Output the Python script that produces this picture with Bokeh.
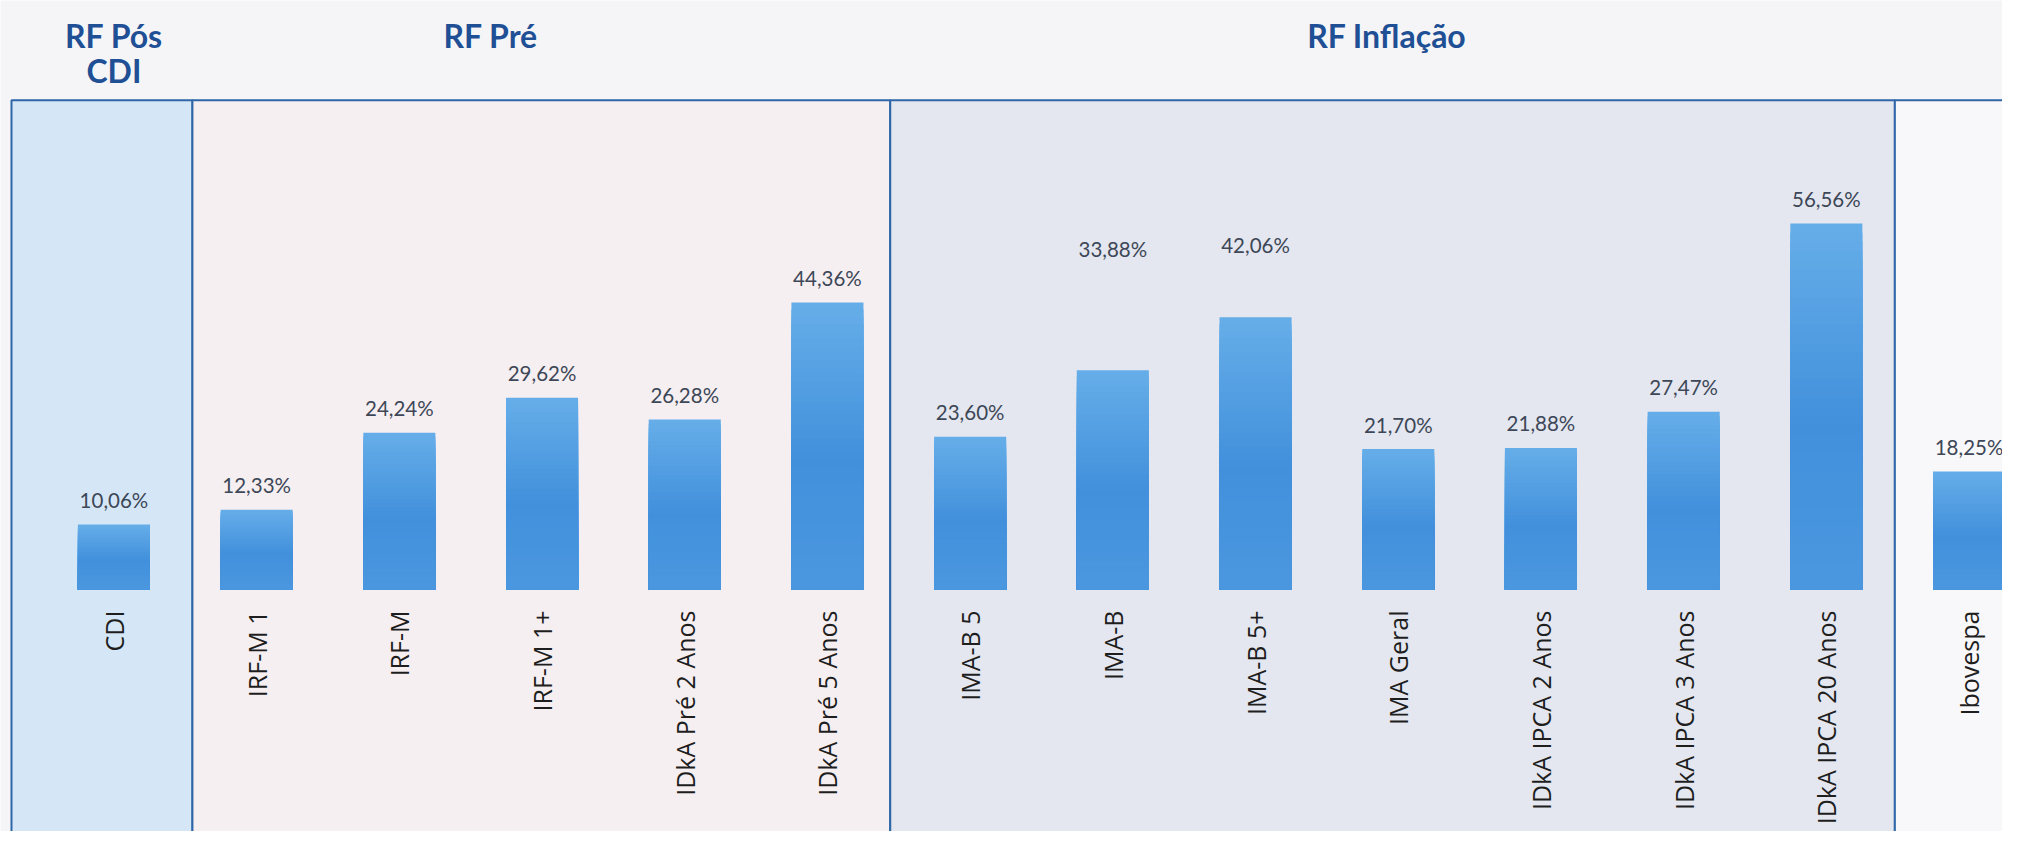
import math
from bokeh.plotting import figure
from bokeh.models import Range1d
from bokeh.core.properties import value
from bokeh.embed import file_html
from bokeh.resources import INLINE

# ---------------- data ----------------
categories = ["CDI", "IRF-M 1", "IRF-M", "IRF-M 1+", "IDkA Pré 2 Anos", "IDkA Pré 5 Anos",
              "IMA-B 5", "IMA-B", "IMA-B 5+", "IMA Geral", "IDkA IPCA 2 Anos",
              "IDkA IPCA 3 Anos", "IDkA IPCA 20 Anos", "Ibovespa"]
returns = [10.06, 12.33, 24.24, 29.62, 26.28, 44.36, 23.60, 33.88, 42.06, 21.70, 21.88,
           27.47, 56.56, 18.25]
group_title_lines = [["RF Pós", "CDI"], ["RF Pré"], ["RF Inflação"], []]
# labels that were moved by hand in the original (placed at these % heights)
moved_labels = {"IMA-B": 52.7, "IMA-B 5+": 53.3}

# ---------------- layout / style ----------------
W, H = 2002, 831
px_per_cat = 142.7
px_per_pct = 6.47
x0 = -0.795
y_base_px = 589
box_top = 75.6
group_left = [-0.718, 0.55, 5.44, 12.48]
group_right = [0.55, 5.44, 12.48, 14.5]
group_fill = ["#d5e7f7", "#f6eff2", "#e4e7f0", "#f8f8fa"]
title_x = [0.0, 2.64, 8.92]
title_line_y = [85.6, 80.2]

p = figure(width=W, height=H, output_backend="svg", toolbar_location=None,
           x_axis_location=None, y_axis_location=None, min_border=0,
           x_range=Range1d(x0, x0 + W / px_per_cat),
           y_range=Range1d(-(H - y_base_px) / px_per_pct, y_base_px / px_per_pct))
p.grid.visible = False
p.outline_line_color = None
p.background_fill_color = "#f5f5f7"
p.border_fill_color = "#f5f5f7"

# group boxes
p.quad(left=group_left, right=group_right, top=[box_top] * 4, bottom=[-60] * 4,
       fill_color=group_fill, line_color="#2e66a8", line_width=2)

# bars with a vertical gradient (lighter at the top): overlapping slices,
# tallest first, each later slice shorter, so no seams show
idx = list(range(len(categories)))
stops = [(0.0, (0x4b, 0x97, 0xdf)), (0.45, (0x42, 0x90, 0xdc)), (1.0, (0x66, 0xae, 0xe9))]


def grad(f):
    for (a, ca), (b, cb) in zip(stops[:-1], stops[1:]):
        if a <= f <= b:
            t = (f - a) / (b - a)
            c = [round(ca[i] + (cb[i] - ca[i]) * t) for i in range(3)]
            return "#%02x%02x%02x" % tuple(c)
    return "#%02x%02x%02x" % stops[-1][1]


N = 40
xs, tops, cols = [], [], []
for i, v in zip(idx, returns):
    for k in range(N - 1, -1, -1):
        xs.append(i)
        tops.append(v * (k + 1) / N)
        cols.append(grad((k + 0.5) / N))
p.vbar(x=xs, top=tops, bottom=0, width=0.505, fill_color=cols, line_color=None)

# value labels
lab_y = [moved_labels.get(c, v + 3.8) for c, v in zip(categories, returns)]
lab_t = [f"{v:.2f}".replace(".", ",") + "%" for v in returns]
p.text(x=idx, y=lab_y, text=lab_t, text_align="center", text_baseline="middle",
       text_font=value("Lato"), text_font_size=value("20.5px"), text_color="#3d4757")

# category labels (rotated)
p.text(x=idx, y=[-3.25] * len(idx), text=categories, angle=math.pi / 2,
       text_align="right", text_baseline="middle",
       text_font=value("Open Sans"), text_font_size=value("25px"), text_color="#1e1e1e")

# group titles
tx, ty, tt = [], [], []
for gx, lines in zip(title_x, group_title_lines):
    for j, line in enumerate(lines):
        tx.append(gx)
        ty.append(title_line_y[j])
        tt.append(line)
p.text(x=tx, y=ty, text=tt, text_align="center", text_baseline="middle",
       text_font=value("Lato"), text_font_style="bold", text_font_size=value("32px"),
       text_color="#1f4f94")

open("out.html", "w").write(file_html(p, INLINE))
